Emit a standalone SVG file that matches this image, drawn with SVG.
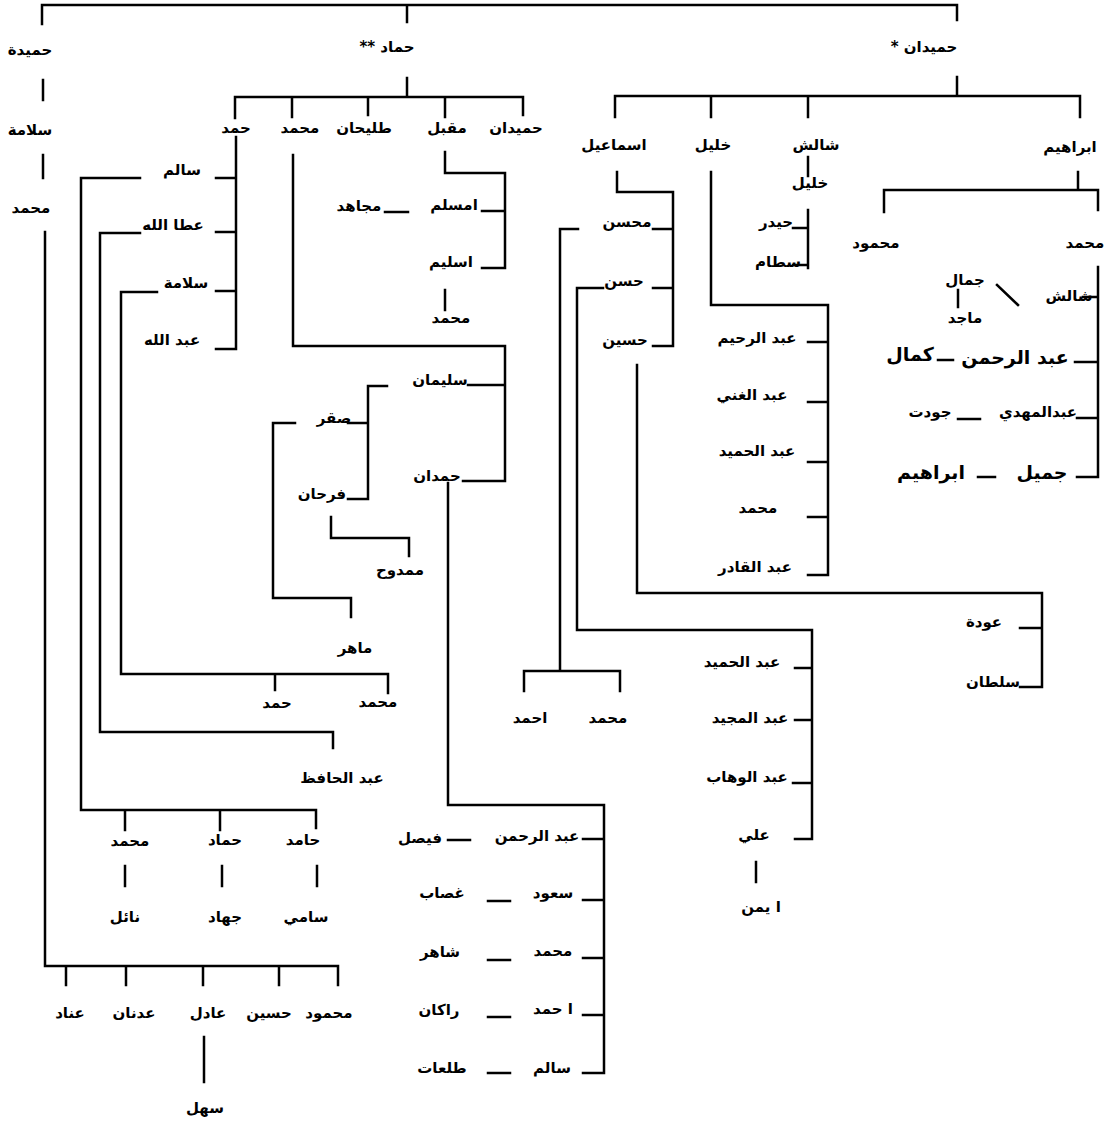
<svg xmlns="http://www.w3.org/2000/svg" width="1115" height="1122" viewBox="0 0 1115 1122">
<style>
text{font-family:"DejaVu Sans","Noto Sans",sans-serif;font-weight:bold;font-size:15px;text-anchor:middle;fill:#000}
.L{font-size:19px}
.c path{stroke:#000;stroke-width:2.5;fill:none;stroke-linecap:square}
</style>
<rect width="1115" height="1122" fill="#fff"/>
<g class="c" id="connectors">
<path d="M42,24V5H957V20M407,5V22"/>
<path d="M43,80V100M43,155V178M45,232V966H338V985M66,966V985M126,966V985M203,966V985M279,966V985M204,1037V1082"/>
<path d="M407,78V97M235,118V97H523V115M292,97V117M368,97V115M445,97V117"/>
<path d="M236,137V349H216M216,178H236M216,232H236M216,291H236"/>
<path d="M140,178H81V810H316V828M125,810V830M220,810V830M125,866V886M222,866V886M317,866V886"/>
<path d="M140,233H100V732H333V748"/>
<path d="M157,292H121V674H388V693M275,674V690"/>
<path d="M293,155V346H505V481H463M468,385H505"/>
<path d="M387,386H368V499H348M348,423H368"/>
<path d="M295,423H273V598H351V617"/>
<path d="M331,517V538H409V556"/>
<path d="M448,483V805H604V1073H583M583,839H604M583,900H604M583,958H604M583,1015H604"/>
<path d="M448,840H470M488,901H510M488,960H510M488,1017H510M488,1073H510"/>
<path d="M445,152V173H505V268H482M482,211H505M385,212H408M445,290V310"/>
<path d="M957,77V96M615,117V96H1080V117M711,96V117M808,96V117"/>
<path d="M808,157V176M808,210V268M793,228H808M793,265H808"/>
<path d="M1078,172V190M884,212V190H1098V210"/>
<path d="M1098,267V477H1077M1083,297H1098M1075,362H1098M1077,418H1098"/>
<path d="M938,360H953M958,419H980M978,477H995M997,285L1018,305M958,290V307"/>
<path d="M711,172V305H828V575H808M808,342H828M808,402H828M808,462H828M808,517H828"/>
<path d="M617,172V192H673V346H653M653,229H673M653,288H673"/>
<path d="M578,229H560V671M524,691V671H620V691"/>
<path d="M603,288H577V630H812V839H795M795,668H812M795,720H812M793,783H812M756,862V882"/>
<path d="M637,365V593H1042V687H1020M1020,628H1042"/>
</g>
<g id="n_hamida"><text x="30" y="55">حميدة</text></g>
<g id="n_hammad"><text x="387" y="52" direction="rtl">حماد **</text></g>
<g id="n_humaidan"><text x="924" y="52" direction="rtl">حميدان *</text></g>
<g id="n_salama0"><text x="30" y="135">سلامة</text></g>
<g id="n_muhammad0"><text x="31" y="213">محمد</text></g>
<g id="n_b1"><text x="70" y="1018">عناد</text></g>
<g id="n_b2"><text x="134" y="1018">عدنان</text></g>
<g id="n_b3"><text x="208" y="1018">عادل</text></g>
<g id="n_b4"><text x="269" y="1018">حسين</text></g>
<g id="n_b5"><text x="329" y="1018">محمود</text></g>
<g id="n_sahl"><text x="205" y="1113">سهل</text></g>
<g id="n_h1"><text x="236" y="133">حمد</text></g>
<g id="n_h2"><text x="300" y="133">محمد</text></g>
<g id="n_h3"><text x="364" y="133">طليحان</text></g>
<g id="n_h4"><text x="447" y="133">مقبل</text></g>
<g id="n_h5"><text x="516" y="133">حميدان</text></g>
<g id="n_salim"><text x="182" y="175">سالم</text></g>
<g id="n_ataallah"><text x="173" y="230">عطا الله</text></g>
<g id="n_salama1"><text x="186" y="288">سلامة</text></g>
<g id="n_abdallah"><text x="172" y="345">عبد الله</text></g>
<g id="n_s1"><text x="130" y="846">محمد</text></g>
<g id="n_s2"><text x="225" y="845">حماد</text></g>
<g id="n_s3"><text x="303" y="845">حامد</text></g>
<g id="n_s1a"><text x="125" y="922">نائل</text></g>
<g id="n_s2a"><text x="225" y="922">جهاد</text></g>
<g id="n_s3a"><text x="306" y="922">سامي</text></g>
<g id="n_abdalhafiz"><text x="342" y="783">عبد الحافظ</text></g>
<g id="n_sl1"><text x="277" y="708">حمد</text></g>
<g id="n_sl2"><text x="378" y="707">محمد</text></g>
<g id="n_sulayman"><text x="440" y="385">سليمان</text></g>
<g id="n_hamdan"><text x="437" y="481">حمدان</text></g>
<g id="n_saqr"><text x="334" y="423">صقر</text></g>
<g id="n_farhan"><text x="322" y="499">فرحان</text></g>
<g id="n_mahir"><text x="355" y="653">ماهر</text></g>
<g id="n_mamduh"><text x="400" y="575">ممدوح</text></g>
<g id="n_hd1"><text x="537" y="841">عبد الرحمن</text></g>
<g id="n_hd1a"><text x="420" y="843">فيصل</text></g>
<g id="n_hd2"><text x="553" y="898">سعود</text></g>
<g id="n_hd2a"><text x="442" y="898">غصاب</text></g>
<g id="n_hd3"><text x="553" y="956">محمد</text></g>
<g id="n_hd3a"><text x="440" y="957">شاهر</text></g>
<g id="n_hd4"><text x="553" y="1014">ا حمد</text></g>
<g id="n_hd4a"><text x="439" y="1015">راكان</text></g>
<g id="n_hd5"><text x="552" y="1073">سالم</text></g>
<g id="n_hd5a"><text x="442" y="1073">طلعات</text></g>
<g id="n_amslam"><text x="454" y="210">امسلم</text></g>
<g id="n_mujahid"><text x="359" y="211">مجاهد</text></g>
<g id="n_islim"><text x="451" y="267">اسليم</text></g>
<g id="n_islim_m"><text x="451" y="323">محمد</text></g>
<g id="n_ismail"><text x="614" y="150">اسماعيل</text></g>
<g id="n_khalil"><text x="713" y="150">خليل</text></g>
<g id="n_shalish"><text x="816" y="150">شالش</text></g>
<g id="n_ibrahim"><text x="1070" y="152">ابراهيم</text></g>
<g id="n_khalil2"><text x="810" y="188">خليل</text></g>
<g id="n_haydar"><text x="776" y="227">حيدر</text></g>
<g id="n_sattam"><text x="778" y="267">سطام</text></g>
<g id="n_mahmud"><text x="876" y="248">محمود</text></g>
<g id="n_muhammad_i"><text x="1085" y="248">محمد</text></g>
<g id="n_shalish2"><text x="1069" y="301">شالش</text></g>
<g id="n_jamal"><text x="965" y="285">جمال</text></g>
<g id="n_majid"><text x="965" y="323">ماجد</text></g>
<g id="n_abdrahman2"><text class="L" x="1015" y="364">عبد الرحمن</text></g>
<g id="n_kamal"><text class="L" x="910" y="361">كمال</text></g>
<g id="n_abdalmahdi"><text x="1038" y="417">عبدالمهدي</text></g>
<g id="n_jawdat"><text x="930" y="417">جودت</text></g>
<g id="n_jamil"><text class="L" x="1042" y="479">جميل</text></g>
<g id="n_ibrahim2"><text class="L" x="931" y="479">ابراهيم</text></g>
<g id="n_k1"><text x="757" y="343">عبد الرحيم</text></g>
<g id="n_k2"><text x="752" y="400">عبد الغني</text></g>
<g id="n_k3"><text x="757" y="456">عبد الحميد</text></g>
<g id="n_k4"><text x="758" y="513">محمد</text></g>
<g id="n_k5"><text x="755" y="572">عبد القادر</text></g>
<g id="n_muhsin"><text x="627" y="227">محسن</text></g>
<g id="n_hasan"><text x="624" y="286">حسن</text></g>
<g id="n_husayn"><text x="625" y="345">حسين</text></g>
<g id="n_ahmad"><text x="530" y="723">احمد</text></g>
<g id="n_muhammad_m"><text x="608" y="723">محمد</text></g>
<g id="n_hs1"><text x="742" y="667">عبد الحميد</text></g>
<g id="n_hs2"><text x="750" y="723">عبد المجيد</text></g>
<g id="n_hs3"><text x="747" y="782">عبد الوهاب</text></g>
<g id="n_ali"><text x="754" y="840">علي</text></g>
<g id="n_ayman"><text x="761" y="912">ا يمن</text></g>
<g id="n_awda"><text x="984" y="627">عودة</text></g>
<g id="n_sultan"><text x="993" y="687">سلطان</text></g>
</svg>
